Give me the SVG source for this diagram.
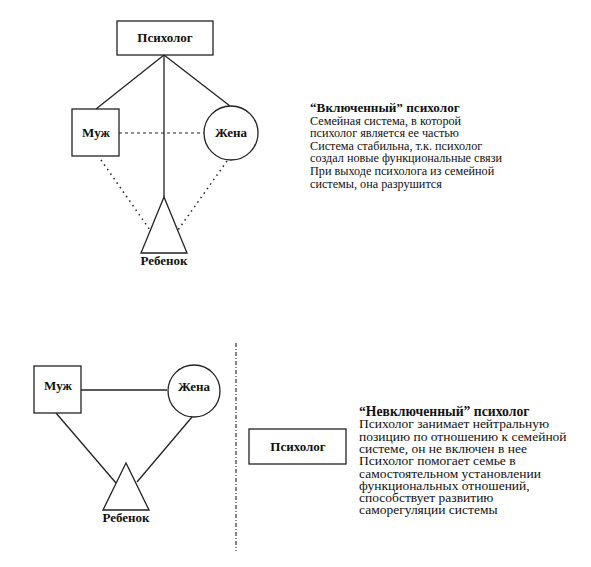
<svg xmlns="http://www.w3.org/2000/svg" width="591" height="567" viewBox="0 0 591 567">
<style>
.s{fill:#fff;stroke:#222;stroke-width:1.3}
.l{fill:none;stroke:#222;stroke-width:1.3}
.dash{fill:none;stroke:#222;stroke-width:1.2;stroke-dasharray:3 3}
.dot{fill:none;stroke:#222;stroke-width:1.5;stroke-dasharray:1.5 4}
.dd{fill:none;stroke:#333;stroke-width:1.2;stroke-dasharray:4 2 1 2}
.lb{font-family:"Liberation Serif","Times New Roman",serif;font-weight:bold;font-size:13px;fill:#111;text-anchor:middle}
.t1{font-family:"Liberation Serif","Times New Roman",serif;font-size:12.2px;fill:#111}
.t2{font-family:"Liberation Serif","Times New Roman",serif;font-size:13.5px;fill:#111}
.tb1{font-weight:bold;font-size:13.2px}
.tb2{font-weight:bold;font-size:13.7px}
</style>
<rect width="591" height="567" fill="#fff"/>
<g id="connectors">
<line class="l" x1="164" y1="55" x2="96" y2="109"/>
<line class="l" x1="164" y1="55" x2="230" y2="106"/>
<line class="l" x1="164" y1="55" x2="164" y2="197"/>
<line class="dash" x1="119" y1="133" x2="204" y2="133"/>
<line class="dot" x1="101" y1="160" x2="150" y2="230"/>
<line class="dot" x1="227" y1="161" x2="178" y2="230"/>
<line class="l" x1="81" y1="390" x2="167" y2="390"/>
<line class="l" x1="56" y1="413" x2="116" y2="483"/>
<line class="l" x1="192" y1="417" x2="137" y2="482"/>
<line class="dd" x1="236" y1="343" x2="236" y2="551"/>
</g>
<g id="psy1">
<rect class="s" x="117" y="21" width="96" height="34"/>
<text class="lb" x="165" y="42">Психолог</text>
</g>
<g id="muzh1">
<rect class="s" x="72" y="109" width="47" height="47"/>
<text class="lb" x="96" y="137">Муж</text>
</g>
<g id="zhena1">
<circle class="s" cx="231" cy="133" r="27"/>
<text class="lb" x="231" y="137">Жена</text>
</g>
<g id="rebenok1">
<polygon class="s" points="164,197 141,253 187,253"/>
<text class="lb" x="164" y="265">Ребенок</text>
</g>
<g id="text1">
<text class="t1" x="310" y="112"><tspan class="tb1">“Включенный” психолог</tspan><tspan x="310" dy="12.6">Семейная система, в которой</tspan><tspan x="310" dy="12.6">психолог является ее частью</tspan><tspan x="310" dy="12.6">Система стабильна, т.к. психолог</tspan><tspan x="310" dy="12.6">создал новые функциональные связи</tspan><tspan x="310" dy="12.6">При выходе психолога из семейной</tspan><tspan x="310" dy="12.6">системы, она разрушится</tspan></text>
</g>
<g id="muzh2">
<rect class="s" x="34" y="366" width="47" height="47"/>
<text class="lb" x="58" y="390">Муж</text>
</g>
<g id="zhena2">
<circle class="s" cx="194" cy="391" r="26"/>
<text class="lb" x="194" y="391">Жена</text>
</g>
<g id="rebenok2">
<polygon class="s" points="126,463 103,510 149,510"/>
<text class="lb" x="126" y="522">Ребенок</text>
</g>
<g id="psy2">
<rect class="s" x="249" y="429" width="97" height="35"/>
<text class="lb" x="298" y="451">Психолог</text>
</g>
<g id="text2">
<text class="t2" x="359" y="416"><tspan class="tb2">“Невключенный” психолог</tspan><tspan x="359" dy="12.3">Психолог занимает нейтральную</tspan><tspan x="359" dy="12.3">позицию по отношению к семейной</tspan><tspan x="359" dy="12.3">системе, он не включен в нее</tspan><tspan x="359" dy="12.3">Психолог помогает семье в</tspan><tspan x="359" dy="12.3">самостоятельном установлении</tspan><tspan x="359" dy="12.3">функциональных отношений,</tspan><tspan x="359" dy="12.3">способствует развитию</tspan><tspan x="359" dy="12.3">саморегуляции системы</tspan></text>
</g>
</svg>
